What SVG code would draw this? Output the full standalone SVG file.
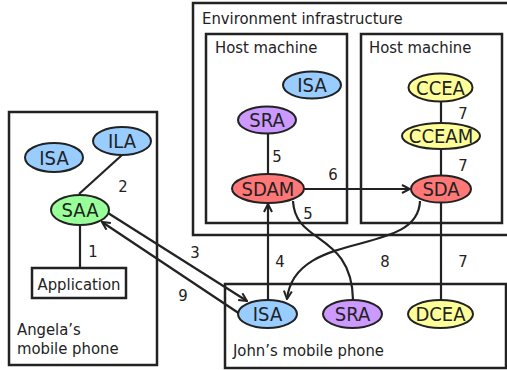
<svg xmlns="http://www.w3.org/2000/svg" width="507" height="370" viewBox="0 0 507 370">
<defs>
<style>
text{font-family:"DejaVu Sans Condensed","DejaVu Sans",sans-serif;font-stretch:condensed;fill:#222}
.lbl{font-size:16.5px}
.nt{font-size:20px;text-anchor:middle}
.box{fill:#fff;stroke:#222;stroke-width:2.5}
.el{stroke:#222;stroke-width:2}
.blue{fill:#99ccff}.green{fill:#99ff99}.red{fill:#ff7777}.purple{fill:#cc99ff}.yellow{fill:#ffff99}
.cn{fill:none;stroke:#222;stroke-width:2.2}
.num{font-size:16.5px;text-anchor:middle}
</style>
<marker id="ah" viewBox="0 0 10 10" refX="9" refY="5" markerWidth="10" markerHeight="10" markerUnits="userSpaceOnUse" orient="auto">
<path d="M1,1 L9,5 L1,9" fill="none" stroke="#222" stroke-width="2"/>
</marker>
</defs>
<rect width="507" height="370" fill="#fff"/>
<g id="angela-phone"><rect class="box" x="9" y="112" width="148" height="253"/><text class="lbl" x="17" y="335">Angela’s</text><text class="lbl" x="17" y="354">mobile phone</text></g>
<g id="environment"><rect class="box" x="193" y="3" width="330" height="232"/><text class="lbl" x="202" y="24">Environment infrastructure</text></g>
<g id="host1"><rect class="box" x="206" y="34" width="141" height="189"/><text class="lbl" x="215" y="52.5">Host machine</text></g>
<g id="host2"><rect class="box" x="361" y="34" width="141" height="189"/><text class="lbl" x="369" y="52.5">Host machine</text></g>
<g id="john-phone"><rect class="box" x="225" y="284" width="281" height="84"/><text class="lbl" x="233" y="356">John’s mobile phone</text></g>
<g id="connectors">
<line class="cn" x1="80" y1="226" x2="80" y2="268"/>
<line class="cn" x1="122" y1="155" x2="79" y2="194"/>
<line class="cn" x1="108" y1="213" x2="247" y2="301" marker-end="url(#ah)"/>
<line class="cn" x1="240" y1="314" x2="102" y2="222" marker-end="url(#ah)"/>
<line class="cn" x1="268" y1="300" x2="268" y2="204" marker-end="url(#ah)"/>
<line class="cn" x1="268" y1="134" x2="268" y2="174"/>
<line class="cn" x1="304" y1="189" x2="410" y2="189" marker-end="url(#ah)"/>
<line class="cn" x1="441" y1="101" x2="441" y2="123"/>
<line class="cn" x1="441" y1="149" x2="441" y2="176"/>
<line class="cn" x1="441" y1="202" x2="441" y2="300"/>
<path class="cn" d="M293,201 C295,245 352,232 353,300"/>
<path class="cn" d="M420,201 C418,258 295,228 287,299" marker-end="url(#ah)"/>
<text class="num" x="93" y="257">1</text>
<text class="num" x="123" y="192">2</text>
<text class="num" x="195" y="258">3</text>
<text class="num" x="280" y="267">4</text>
<text class="num" x="277" y="162">5</text>
<text class="num" x="308" y="219">5</text>
<text class="num" x="333" y="180">6</text>
<text class="num" x="463" y="119">7</text>
<text class="num" x="463" y="171">7</text>
<text class="num" x="463" y="267">7</text>
<text class="num" x="385" y="267">8</text>
<text class="num" x="183" y="301">9</text>
</g>
<g id="a-isa"><ellipse class="el blue" cx="54" cy="157.5" rx="29" ry="14.5"/><text class="nt" x="54" y="164.5">ISA</text></g>
<g id="a-ila"><ellipse class="el blue" cx="122" cy="141" rx="29" ry="14"/><text class="nt" x="122" y="148">ILA</text></g>
<g id="a-saa"><ellipse class="el green" cx="80" cy="210" rx="29" ry="15"/><text class="nt" x="80" y="217">SAA</text></g>
<g id="a-app"><rect class="box" x="32" y="268" width="94" height="30"/><text class="lbl" x="79" y="289.5" text-anchor="middle">Application</text></g>
<g id="h1-isa"><ellipse class="el blue" cx="312" cy="85" rx="29" ry="13.5"/><text class="nt" x="312" y="92">ISA</text></g>
<g id="h1-sra"><ellipse class="el purple" cx="267" cy="120" rx="29" ry="13.5"/><text class="nt" x="267" y="127">SRA</text></g>
<g id="h1-sdam"><ellipse class="el red" cx="268" cy="188.5" rx="36" ry="14.5"/><text class="nt" x="268" y="195.5">SDAM</text></g>
<g id="h2-ccea"><ellipse class="el yellow" cx="440.5" cy="87.5" rx="32" ry="14"/><text class="nt" x="440.5" y="94.5">CCEA</text></g>
<g id="h2-cceam"><ellipse class="el yellow" cx="441" cy="136" rx="39" ry="13"/><text class="nt" x="441" y="143">CCEAM</text></g>
<g id="h2-sda"><ellipse class="el red" cx="441" cy="189" rx="30" ry="13.5"/><text class="nt" x="441" y="196">SDA</text></g>
<g id="j-isa"><ellipse class="el blue" cx="267.5" cy="314" rx="29.5" ry="14"/><text class="nt" x="267.5" y="321">ISA</text></g>
<g id="j-sra"><ellipse class="el purple" cx="352.5" cy="314" rx="29.5" ry="14"/><text class="nt" x="352.5" y="321">SRA</text></g>
<g id="j-dcea"><ellipse class="el yellow" cx="440.5" cy="314" rx="32.5" ry="14"/><text class="nt" x="440.5" y="321">DCEA</text></g>
</svg>
